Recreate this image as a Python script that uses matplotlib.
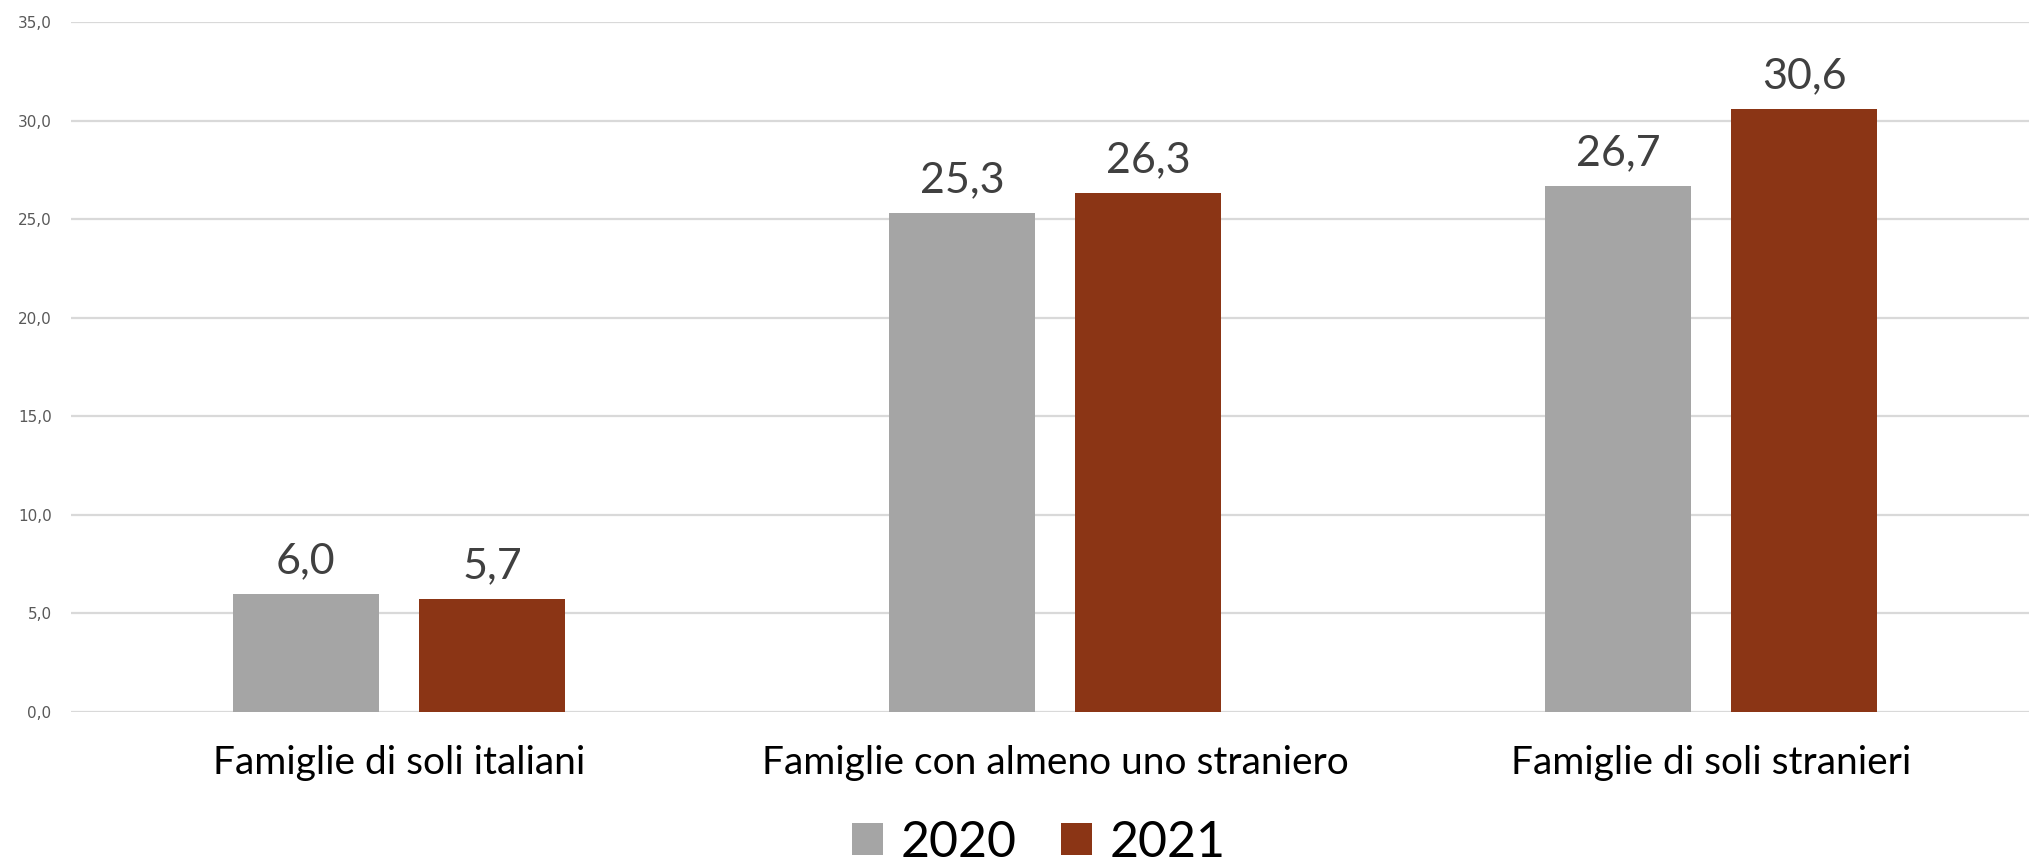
import numpy as np
import matplotlib
matplotlib.use("Agg")
import matplotlib.pyplot as plt
from matplotlib.patches import Patch

categories = ["Famiglie di soli italiani", "Famiglie con almeno uno straniero", "Famiglie di soli stranieri"]
years = ["2020", "2021"]
values_2020 = [6.0, 25.3, 26.7]
values_2021 = [5.7, 26.3, 30.6]
yticks = [0, 5, 10, 15, 20, 25, 30, 35]

COLORS = ["#A5A5A5", "#8B3515"]
LABEL_FONT = ["Lato", "DejaVu Sans"]

fig = plt.figure(figsize=(20.29, 8.67), dpi=100)
ax = fig.add_axes([0.035, 0.179, 0.970, 0.7956])

x = np.arange(len(categories))
width = 0.223
offsets = [-0.142, 0.142]

for vals, off, col in zip([values_2020, values_2021], offsets, COLORS):
    bars = ax.bar(x + off, vals, width=width, color=col, zorder=3)
    for b, v in zip(bars, vals):
        ax.text(b.get_x() + b.get_width() / 2, v + 0.7, f"{v:.1f}".replace(".", ","),
                ha="center", va="bottom", fontsize=31, color="#404040", family=LABEL_FONT)

ax.set_xlim(-0.5, 2.5)
ax.set_ylim(0, 35)
ax.set_yticks(yticks)
ax.set_yticklabels([f"{t:.1f}".replace(".", ",") for t in yticks], fontsize=11, color="#595959")
ax.yaxis.grid(True, color="#D9D9D9", linewidth=1.6, zorder=0)
ax.tick_params(axis="y", length=0, pad=14)
ax.set_xticks(x)
ax.set_xticklabels(categories, fontsize=28, family=LABEL_FONT, color="black")
ax.tick_params(axis="x", length=0, pad=24)
for s in ["left", "right", "top", "bottom"]:
    ax.spines[s].set_visible(False)

handles = [Patch(facecolor=c, edgecolor="none") for c in COLORS]
leg = fig.legend(handles, years, loc="center", bbox_to_anchor=(0.512, 0.028), ncol=2,
                 frameon=False, prop={"family": LABEL_FONT, "size": 36},
                 handlelength=0.62, handleheight=0.62, handletextpad=0.35, columnspacing=0.9)

fig.savefig("out.png", dpi=100)
